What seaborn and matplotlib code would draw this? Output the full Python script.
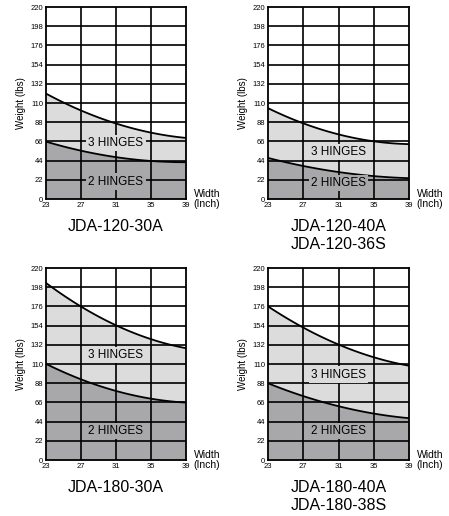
import matplotlib
matplotlib.use("Agg")
import matplotlib.pyplot as plt
import numpy as np
import pandas as pd
import seaborn as sns

# Door width points (inch)
widths = [23, 27, 31, 35, 39]

# Max weight per width (lbs)
jda_120_30a_3h = [121, 101, 87, 76, 70]
jda_120_30a_2h = [66, 55, 48, 44, 42]
jda_120_40a_3h = [104, 87, 74, 66, 63]
jda_120_40a_2h = [47, 38, 31, 26, 24]
jda_180_30a_3h = [203, 176, 154, 139, 128]
jda_180_30a_2h = [110, 93, 79, 70, 66]
jda_180_40a_3h = [176, 152, 132, 118, 108]
jda_180_40a_2h = [88, 73, 62, 53, 48]

titles = ["JDA-120-30A", "JDA-120-40A\nJDA-120-36S",
          "JDA-180-30A", "JDA-180-40A\nJDA-180-38S"]
upper = [jda_120_30a_3h, jda_120_40a_3h, jda_180_30a_3h, jda_180_40a_3h]
lower = [jda_120_30a_2h, jda_120_40a_2h, jda_180_30a_2h, jda_180_40a_2h]
label_y3 = [64, 54, 120, 98]
label_y2 = [20, 18, 33, 33]

y_ticks = list(range(0, 221, 22))
x_ticks = widths

light = "#dcdcdd"
dark = "#a8a8aa"

sns.set_style("white")
plt.rcParams['font.family'] = ['Liberation Sans', 'DejaVu Sans']
plt.rcParams['text.color'] = 'black'
plt.rcParams['axes.labelcolor'] = 'black'
plt.rcParams['xtick.color'] = 'black'
plt.rcParams['ytick.color'] = 'black'

fig = plt.figure(figsize=(4.49, 5.16), dpi=100)
positions = [
    (0.1024, 0.6143, 0.3118, 0.372),
    (0.597, 0.6143, 0.314, 0.372),
    (0.1024, 0.1085, 0.3118, 0.372),
    (0.597, 0.1085, 0.314, 0.372),
]


def smooth(x, y, n=60):
    # quadratic fit through the read points for a smooth curve
    coef = np.polyfit(x, y, 2)
    xs = np.linspace(x[0], x[-1], n)
    return xs, np.polyval(coef, xs)


for i, pos in enumerate(positions):
    ax = fig.add_axes(pos)
    xs, up = smooth(widths, upper[i])
    _, lo = smooth(widths, lower[i])
    df = pd.DataFrame({"Width": np.concatenate([xs, xs]),
                       "Weight": np.concatenate([up, lo]),
                       "Hinges": ["3"] * len(xs) + ["2"] * len(xs)})

    ax.fill_between(xs, 0, lo, color=dark, zorder=1, lw=0)
    ax.fill_between(xs, lo, up, color=light, zorder=1, lw=0)

    # grid on top of fills
    for xv in x_ticks[1:-1]:
        ax.axvline(xv, color="black", lw=1.2, zorder=2)
    for yv in y_ticks[1:-1]:
        ax.axhline(yv, color="black", lw=1.2, zorder=2)

    sns.lineplot(data=df, x="Width", y="Weight", units="Hinges", estimator=None,
                 color="black", lw=1.3, ax=ax, zorder=3)

    ax.text(31, label_y3[i], "3 HINGES", ha="center", va="center", fontsize=8.5,
            zorder=4, bbox=dict(facecolor=light, edgecolor="none", pad=1.5))
    ax.text(31, label_y2[i], "2 HINGES", ha="center", va="center", fontsize=8.5,
            zorder=4, bbox=dict(facecolor=dark, edgecolor="none", pad=1.5))

    ax.set_xlim(23, 39)
    ax.set_ylim(0, 220)
    ax.set_xticks(x_ticks)
    ax.set_yticks(y_ticks)
    ax.tick_params(length=0, labelsize=5.5, pad=2)
    ax.set_xlabel("")
    ax.set_ylabel("Weight (lbs)", fontsize=7, labelpad=3)
    for s in ax.spines.values():
        s.set_color("black")
        s.set_linewidth(1.3)
        s.set_zorder(5)

    ax.text(1.055, 0.0, "Width\n(Inch)", transform=ax.transAxes,
            ha="left", va="center", fontsize=7.5, linespacing=1.05)
    ax.text(0.5, -0.105, titles[i], transform=ax.transAxes, ha="center",
            va="top", fontsize=11.5, linespacing=1.2)

fig.savefig("out.png", dpi=100)
